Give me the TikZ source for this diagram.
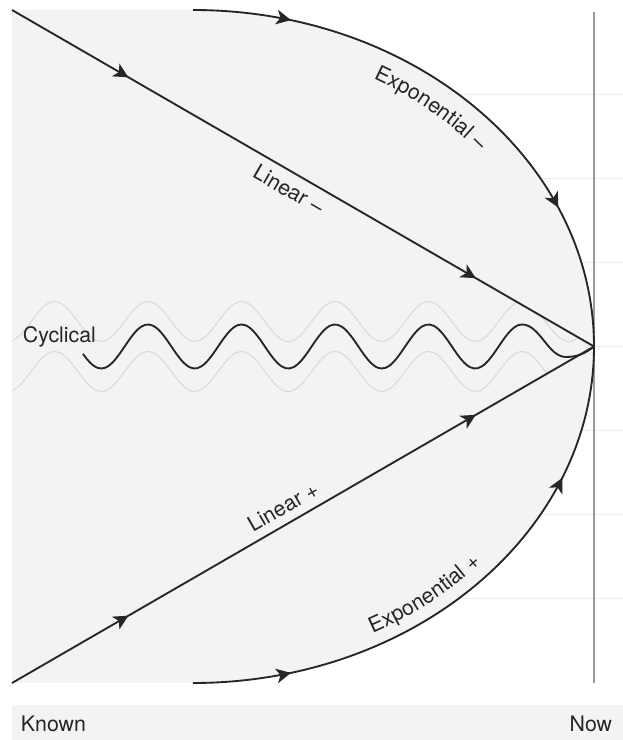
\documentclass[tikz,border=0pt]{standalone}
\usepackage{fontspec}
\setmainfont{TeX Gyre Heros}
\usetikzlibrary{arrows.meta,decorations.markings,decorations.text}
\definecolor{areagrey}{HTML}{F3F3F3}
\definecolor{ink}{HTML}{262626}
\definecolor{faint}{HTML}{DADADA}
\definecolor{gridc}{HTML}{ECECEC}
\definecolor{nowline}{HTML}{9A9A9A}
\tikzset{
  lbl/.style={font=\fontsize{16}{19}\selectfont, text=ink, inner sep=2pt},
  trend/.style={ink, line width=1.4pt},
  flow/.style 2 args={decoration={markings,
      mark=at position #1 with {\arrow{Stealth[length=11pt,width=11pt,inset=3pt]}},
      mark=at position #2 with {\arrow{Stealth[length=11pt,width=11pt,inset=3pt]}}},
    postaction={decorate}},
}
\begin{document}
\begin{tikzpicture}[x=0.75pt, y=0.75pt, line join=round]
    \useasboundingbox (0,0) rectangle (623,740);
    % 定义坐标 (左上、左下、当前点)
    \coordinate (TL) at (12,730);
    \coordinate (BL) at (12,57);
    \coordinate (N) at (594,393.5);
    \coordinate (T) at (193,730);
    \coordinate (B) at (193,57);

    % 背景横线
    \foreach \k in {1,...,7}
        \draw[gridc, line width=0.8pt] (12,{57+84.1*\k}) -- (623,{57+84.1*\k});

    % 灰色区域
    \fill[areagrey] (TL) -- (T) arc[start angle=90, end angle=0, x radius=401, y radius=336.5]
        arc[start angle=0, end angle=-90, x radius=401, y radius=336.5] -- (BL) -- cycle;

    % 当前时刻竖线
    \draw[nowline, line width=0.8pt] (594,728) -- (594,57);

    % 浅色波动 (周期 93.5, 3.85 = 360/93.5)
    \begin{scope}
        \clip (TL) -- (N) -- (BL) -- cycle;
        \draw[faint, line width=0.8pt] plot[domain=12:594, samples=160, smooth]
            (\x,{418.5+20*cos(3.85*(\x-148))});
        \draw[faint, line width=0.8pt] plot[domain=12:594, samples=160, smooth]
            (\x,{368.5+20*cos(3.85*(\x-148))});
    \end{scope}

    % 指数曲线
    \draw[trend, flow={0.17}{0.75}] (T) arc[start angle=90, end angle=0, x radius=401, y radius=336.5];
    \draw[trend, flow={0.17}{0.765}] (B) arc[start angle=-90, end angle=0, x radius=401, y radius=336.5];

    % 线性
    \draw[trend, flow={0.2}{0.797}] (TL) -- node[lbl, sloped, below=4pt, pos=0.49] (linm) {Linear –} (N);
    \draw[trend, flow={0.2}{0.797}] (BL) -- node[lbl, sloped, above=4pt, pos=0.48] (linp) {Linear +} (N);

    % 周期波动
    \draw[trend] plot[domain=83:522, samples=120, smooth] (\x,{393.5+22*cos(3.85*(\x-148))})
        .. controls (540,415.5) and (548,383) .. (566,383)
        .. controls (579,383) and (587,388) .. (N);
    \node[lbl, anchor=base west] (cyc) at (20,397) {Cyclical};

    % 指数曲线文字
    \path[decorate, decoration={text along path, text align=center,
        text={|\fontsize{16}{19}\selectfont\color{ink}|Exponential –}}]
        (193,393.5) ++(66:371 and 306.5) arc[start angle=66, end angle=34, x radius=371, y radius=306.5];
    \path[decorate, decoration={text along path, text align=center,
        text={|\fontsize{16}{19}\selectfont\color{ink}|Exponential +}}]
        (193,393.5) ++(-68:388 and 323.5) arc[start angle=-68, end angle=-36, x radius=388, y radius=323.5];

    % 底部时间轴
    \fill[areagrey] (12,0) rectangle (623,35);
    \node[lbl, anchor=base west] (known) at (18,8) {Known};
    \node[lbl, anchor=base east] (now) at (615,8) {Now};
\end{tikzpicture}
\end{document}
